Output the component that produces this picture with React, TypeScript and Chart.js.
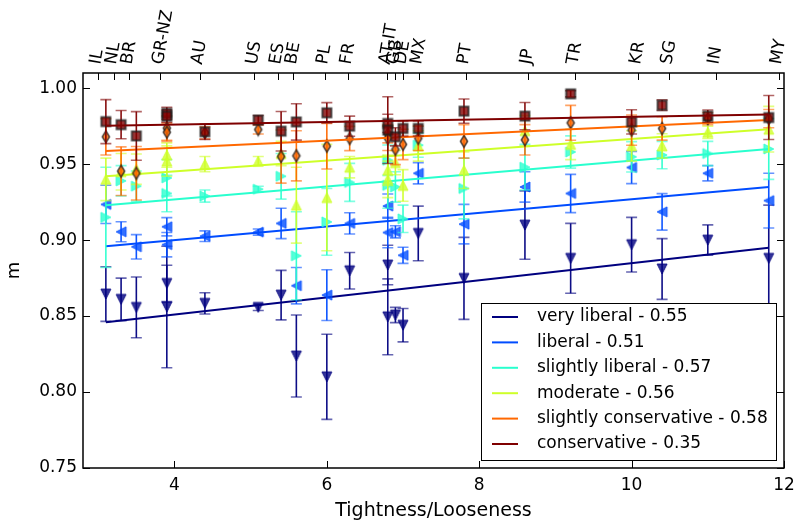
import React, { useEffect, useRef } from 'react';
import { Chart, registerables } from 'chart.js';

Chart.register(...registerables);

const FONT = "'DejaVu Sans', 'Liberation Sans', sans-serif";

// Countries and their tightness scores (bottom axis positions)
const countries = ['IL', 'NL', 'BR', 'GR', 'NZ', 'AU', 'US', 'ES', 'BE', 'PL', 'FR', 'AT', 'IT', 'GB', 'DE', 'MX', 'PT', 'JP', 'TR', 'KR', 'SG', 'IN', 'MY'];
const tightness = [3.1, 3.3, 3.5, 3.9, 3.9, 4.4, 5.1, 5.4, 5.6, 6.0, 6.3, 6.8, 6.8, 6.9, 7.0, 7.2, 7.8, 8.6, 9.2, 10.0, 10.4, 11.0, 11.8];

// Top axis (country codes)
const topTickValues = [3.1, 3.3, 3.5, 3.9, 4.4, 5.1, 5.4, 5.6, 6.0, 6.3, 6.8, 6.9, 7.0, 7.2, 7.8, 8.6, 9.2, 10.0, 10.4, 11.0, 11.8];
const topTickLabels = ['IL', 'NL', 'BR', 'GR-NZ', 'AU', 'US', 'ES', 'BE', 'PL', 'FR', 'AT-IT', 'GB', 'DE', 'MX', 'PT', 'JP', 'TR', 'KR', 'SG', 'IN', 'MY'];
const topRange = [2.91, 11.87];

const xTicks = [4, 6, 8, 10, 12];
const xRange = [2.8, 12];
const yTicks = [0.75, 0.8, 0.85, 0.9, 0.95, 1.0];
const yRange = [0.75, 1.01];

const seriesNames = ['very liberal', 'liberal', 'slightly liberal', 'moderate', 'slightly conservative', 'conservative'];
const seriesScores = ['0.55', '0.51', '0.57', '0.56', '0.58', '0.35'];
const seriesColors = ['#00007f', '#004cff', '#29ffce', '#ceff29', '#ff6800', '#7f0000'];
const seriesMarkers = ['v', '<', '>', '^', 'd', 's'];

// values per country (same order as countries)
const veryLiberal = [0.8645, 0.861, 0.8557, 0.8715, 0.856, 0.8584, 0.8557, 0.8638, 0.8237, 0.810, 0.8798, 0.8836, 0.8495, 0.8507, 0.844, 0.9044, 0.8748, 0.9099, 0.888, 0.897, 0.881, 0.900, 0.888];
const veryLiberalErr = [0.018, 0.014, 0.02, 0.012, 0.04, 0.007, 0.002, 0.0163, 0.027, 0.028, 0.012, 0.013, 0.025, 0.005, 0.011, 0.018, 0.027, 0.0225, 0.023, 0.018, 0.02, 0.01, 0.035];

const liberal = [0.9235, 0.9055, 0.8956, 0.9088, 0.897, 0.9026, 0.9053, 0.911, 0.870, 0.8638, 0.911, 0.9224, 0.905, 0.9055, 0.890, 0.944, 0.9105, 0.935, 0.9307, 0.9478, 0.9186, 0.944, 0.926];
const liberalErr = [0.0126, 0.0066, 0.008, 0.006, 0.008, 0.0035, 0.002, 0.01, 0.012, 0.0167, 0.007, 0.008, 0.01, 0.004, 0.0053, 0.007, 0.013, 0.01, 0.0126, 0.0106, 0.012, 0.005, 0.018];

const slightlyLiberal = [0.915, 0.939, 0.9355, 0.941, 0.9307, 0.929, 0.9335, 0.942, 0.8897, 0.912, 0.938, 0.9526, 0.936, 0.935, 0.914, 0.9625, 0.934, 0.948, 0.958, 0.9548, 0.956, 0.957, 0.960];
const slightlyLiberalErr = [0.033, 0.01, 0.01, 0.012, 0.012, 0.004, 0.002, 0.015, 0.029, 0.022, 0.0125, 0.01, 0.015, 0.01, 0.009, 0.008, 0.02, 0.015, 0.0106, 0.01, 0.009, 0.008, 0.02];

const moderate = [0.940, 0.945, 0.9467, 0.956, 0.952, 0.950, 0.952, 0.957, 0.923, 0.928, 0.948, 0.946, 0.940, 0.951, 0.936, 0.962, 0.946, 0.972, 0.963, 0.962, 0.962, 0.971, 0.973];
const moderateErr = [0.014, 0.012, 0.01, 0.008, 0.01, 0.005, 0.003, 0.008, 0.025, 0.035, 0.007, 0.01, 0.012, 0.008, 0.0104, 0.01, 0.012, 0.01, 0.01, 0.01, 0.008, 0.004, 0.015];

const slightlyConservative = [0.968, 0.9454, 0.944, 0.9737, 0.971, 0.9706, 0.9728, 0.955, 0.9555, 0.9618, 0.9669, 0.970, 0.967, 0.9597, 0.963, 0.967, 0.965, 0.966, 0.9772, 0.9724, 0.9735, 0.980, 0.980];
const slightlyConservativeErr = [0.012, 0.016, 0.0176, 0.008, 0.006, 0.004, 0.003, 0.0175, 0.0165, 0.015, 0.008, 0.006, 0.008, 0.01, 0.01, 0.008, 0.011, 0.01, 0.0115, 0.01, 0.0077, 0.004, 0.006];

const conservative = [0.978, 0.976, 0.9686, 0.9834, 0.9816, 0.9713, 0.979, 0.9717, 0.9778, 0.9838, 0.975, 0.9768, 0.9724, 0.968, 0.9735, 0.9735, 0.9849, 0.9816, 0.9963, 0.9778, 0.9888, 0.9816, 0.9807];
const conservativeErr = [0.0145, 0.0093, 0.016, 0.004, 0.004, 0.005, 0.003, 0.013, 0.012, 0.0067, 0.0066, 0.006, 0.022, 0.006, 0.005, 0.005, 0.008, 0.009, 0.002, 0.008, 0.0035, 0.004, 0.0145];

// regression lines: value at first and last tightness
const fitX = [3.1, 11.8];
const fitStart = [0.846, 0.896, 0.923, 0.942, 0.9586, 0.9752];
const fitEnd = [0.895, 0.935, 0.960, 0.973, 0.979, 0.9827];

const seriesValues = [veryLiberal, liberal, slightlyLiberal, moderate, slightlyConservative, conservative];
const seriesErrors = [veryLiberalErr, liberalErr, slightlyLiberalErr, moderateErr, slightlyConservativeErr, conservativeErr];

function hexToRgba(hex: string, a: number) {
  const n = parseInt(hex.slice(1), 16);
  return `rgba(${(n >> 16) & 255},${(n >> 8) & 255},${n & 255},${a})`;
}

function makeMarker(kind: string, color: string): HTMLCanvasElement {
  const S = 16;
  const c = document.createElement('canvas');
  c.width = S;
  c.height = S;
  const g = c.getContext('2d')!;
  const m = S / 2;
  const r = 5;
  g.beginPath();
  if (kind === 'v') {
    g.moveTo(m - r, m - r); g.lineTo(m + r, m - r); g.lineTo(m, m + r);
  } else if (kind === '^') {
    g.moveTo(m - r, m + r); g.lineTo(m + r, m + r); g.lineTo(m, m - r);
  } else if (kind === '<') {
    g.moveTo(m + r, m - r); g.lineTo(m + r, m + r); g.lineTo(m - r, m);
  } else if (kind === '>') {
    g.moveTo(m - r, m - r); g.lineTo(m - r, m + r); g.lineTo(m + r, m);
  } else if (kind === 'd') {
    g.moveTo(m, m - 6); g.lineTo(m + 3.6, m); g.lineTo(m, m + 6); g.lineTo(m - 3.6, m);
  } else {
    g.rect(m - 4.5, m - 4.5, 9, 9);
  }
  g.closePath();
  g.fillStyle = hexToRgba(color, 0.8);
  g.fill();
  if (kind === 'd' || kind === 's') {
    g.strokeStyle = 'rgba(30,30,30,0.75)';
    g.lineWidth = kind === 's' ? 2 : 1.6;
  } else {
    g.strokeStyle = hexToRgba(color, 0.8);
    g.lineWidth = 1;
  }
  g.stroke();
  return c;
}

const errorBarPlugin = {
  id: 'errorBars',
  beforeDatasetDraw(chart: any, args: any) {
    const ds = chart.data.datasets[args.index];
    if (!ds.errors) return;
    const ctx = chart.ctx;
    const xs = chart.scales.x;
    const ys = chart.scales.y;
    ctx.save();
    ds.data.forEach((p: any, i: number) => {
      const e = ds.errors[i];
      const px = xs.getPixelForValue(p.x);
      const t = ys.getPixelForValue(p.y + e);
      const b = ys.getPixelForValue(p.y - e);
      ctx.lineWidth = 1.6;
      ctx.strokeStyle = hexToRgba(ds.baseColor, 0.95);
      ctx.beginPath();
      ctx.moveTo(px, t);
      ctx.lineTo(px, b);
      ctx.stroke();
      ctx.strokeStyle = hexToRgba(ds.baseColor, 0.6);
      ctx.beginPath();
      ctx.moveTo(px - 5.5, t); ctx.lineTo(px + 5.5, t);
      ctx.moveTo(px - 5.5, b); ctx.lineTo(px + 5.5, b);
      ctx.stroke();
    });
    ctx.restore();
  },
};

const framePlugin = {
  id: 'frameTicks',
  afterDatasetsDraw(chart: any) {
    const ctx = chart.ctx;
    const { left, right, top, bottom } = chart.chartArea;
    const xs = chart.scales.x;
    const xt = chart.scales.xTop;
    const ys = chart.scales.y;
    ctx.save();
    ctx.strokeStyle = '#000';
    ctx.lineWidth = 1;
    ctx.beginPath();
    xTicks.forEach((v) => {
      const p = Math.round(xs.getPixelForValue(v)) + 0.5;
      ctx.moveTo(p, bottom); ctx.lineTo(p, bottom - 7);
    });
    topTickValues.forEach((v) => {
      const p = Math.round(xt.getPixelForValue(v)) + 0.5;
      ctx.moveTo(p, top); ctx.lineTo(p, top + 7);
    });
    yTicks.forEach((v) => {
      const p = Math.round(ys.getPixelForValue(v)) + 0.5;
      ctx.moveTo(left, p); ctx.lineTo(left + 7, p);
      ctx.moveTo(right, p); ctx.lineTo(right - 7, p);
    });
    ctx.stroke();
    ctx.lineWidth = 1.5;
    ctx.strokeRect(left, top, right - left, bottom - top);
    ctx.restore();
  },
};

const legendPlugin = {
  id: 'boxLegend',
  afterDraw(chart: any) {
    const ctx = chart.ctx;
    const { right, bottom } = chart.chartArea;
    const w = 295;
    const h = 157;
    const x0 = right - 8 - w;
    const y0 = bottom - 8 - h;
    ctx.save();
    ctx.fillStyle = '#fff';
    ctx.fillRect(x0, y0, w, h);
    ctx.strokeStyle = '#000';
    ctx.lineWidth = 1;
    ctx.strokeRect(Math.round(x0) + 0.5, Math.round(y0) + 0.5, w, h);
    ctx.font = `17px ${FONT}`;
    ctx.textBaseline = 'middle';
    ctx.textAlign = 'left';
    seriesNames.forEach((name, k) => {
      const y = y0 + 14 + k * 25.4;
      ctx.strokeStyle = seriesColors[k];
      ctx.lineWidth = 2;
      ctx.beginPath();
      ctx.moveTo(x0 + 11, y);
      ctx.lineTo(x0 + 37, y);
      ctx.stroke();
      ctx.fillStyle = '#000';
      ctx.fillText(`${name} - ${seriesScores[k]}`, x0 + 56, y);
    });
    ctx.restore();
  },
};

export default function App() {
  const ref = useRef<HTMLCanvasElement>(null);
  useEffect(() => {
    document.body.style.margin = '0';
    const markers = seriesMarkers.map((m, k) => makeMarker(m, seriesColors[k]));
    const datasets: any[] = [];
    seriesNames.forEach((name, k) => {
      datasets.push({
        type: 'scatter',
        label: name,
        data: tightness.map((x, i) => ({ x, y: seriesValues[k][i] })),
        errors: seriesErrors[k],
        baseColor: seriesColors[k],
        pointStyle: markers[k],
        pointRadius: 6,
        showLine: false,
        xAxisID: 'x',
        yAxisID: 'y',
        order: (5 - k) * 2 + 1,
      });
      datasets.push({
        type: 'scatter',
        label: name + ' fit',
        data: fitX.map((x, j) => ({ x, y: j === 0 ? fitStart[k] : fitEnd[k] })),
        showLine: true,
        borderColor: seriesColors[k],
        borderWidth: 2,
        pointRadius: 0,
        xAxisID: 'x',
        yAxisID: 'y',
        order: (5 - k) * 2,
      });
    });

    const tickFont = { family: FONT, size: 17 };
    const chart = new Chart(ref.current!, {
      type: 'scatter',
      data: { datasets },
      options: {
        animation: false,
        responsive: true,
        maintainAspectRatio: false,
        events: [],
        layout: { padding: { left: 0, right: 16, top: 0, bottom: 0 } },
        plugins: { legend: { display: false }, tooltip: { enabled: false } },
        scales: {
          x: {
            type: 'linear',
            position: 'bottom',
            min: xRange[0],
            max: xRange[1],
            afterBuildTicks: (s: any) => { s.ticks = xTicks.map((v) => ({ value: v })); },
            afterFit: (s: any) => { s.height = 56; s.paddingLeft = 0; s.paddingRight = 0; },
            ticks: { font: tickFont, color: '#000', padding: 7, maxRotation: 0, autoSkip: false, callback: (v: any) => String(v) },
            grid: { display: false, drawTicks: false },
            border: { display: false },
            title: { display: true, text: 'Tightness/Looseness', font: { family: FONT, size: 19 }, color: '#000', padding: { top: 0, bottom: 2 } },
          },
          xTop: {
            type: 'linear',
            axis: 'x',
            position: 'top',
            min: topRange[0],
            max: topRange[1],
            afterBuildTicks: (s: any) => { s.ticks = topTickValues.map((v) => ({ value: v })); },
            afterFit: (s: any) => { s.height = 73; s.paddingLeft = 0; s.paddingRight = 0; },
            ticks: {
              font: tickFont,
              color: '#000',
              padding: 7,
              minRotation: 80,
              maxRotation: 80,
              autoSkip: false,
              labelOffset: 18,
              callback: (_v: any, i: number) => topTickLabels[i],
            },
            grid: { display: false, drawTicks: false },
            border: { display: false },
          },
          y: {
            type: 'linear',
            position: 'left',
            min: yRange[0],
            max: yRange[1],
            afterBuildTicks: (s: any) => { s.ticks = yTicks.map((v) => ({ value: v })); },
            afterFit: (s: any) => { s.width = 83; s.paddingTop = 0; s.paddingBottom = 0; },
            ticks: { font: tickFont, color: '#000', padding: 6, callback: (v: any) => Number(v).toFixed(2) },
            grid: { display: false, drawTicks: false },
            border: { display: false },
            title: { display: true, text: 'm', font: { family: FONT, size: 18 }, color: '#000', padding: { top: 4, bottom: 0 } },
          },
        },
      } as any,
      plugins: [errorBarPlugin, framePlugin, legendPlugin],
    });
    return () => chart.destroy();
  }, []);

  return (
    <div style={{ position: 'absolute', left: 0, top: 0, width: 800, height: 524 }}>
      <canvas ref={ref} />
    </div>
  );
}
